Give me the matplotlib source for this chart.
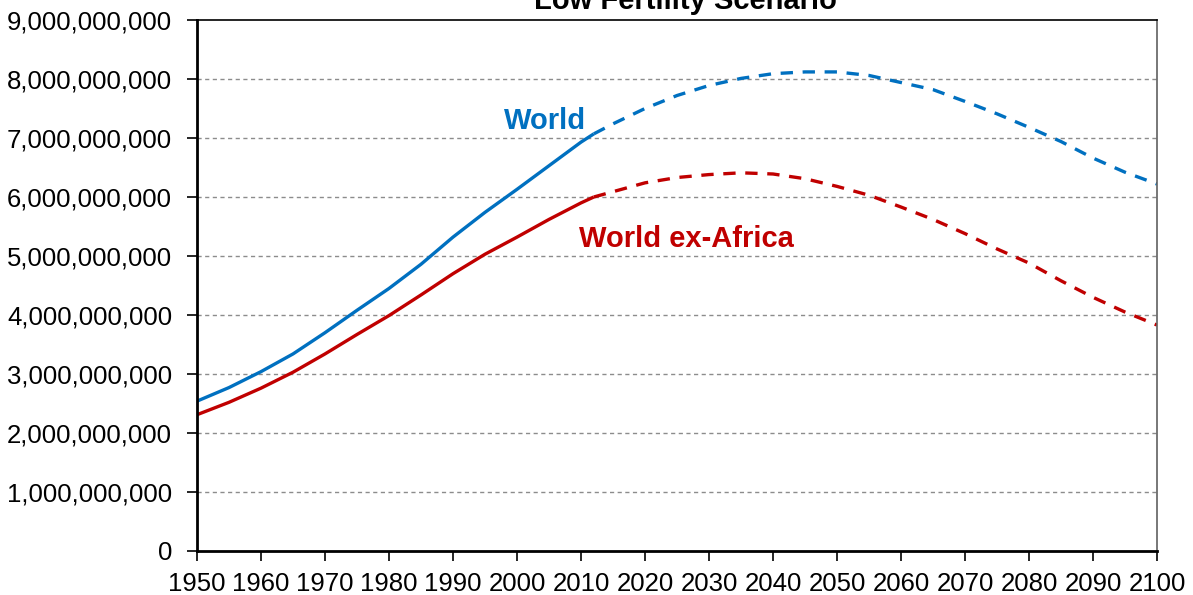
import matplotlib
matplotlib.use("Agg")
import matplotlib.pyplot as plt
from matplotlib.ticker import FuncFormatter, MultipleLocator

plt.rcParams['font.family'] = ['Liberation Sans', 'DejaVu Sans']

# Historical (solid) data
hist_years = [1950, 1955, 1960, 1965, 1970, 1975, 1980, 1985, 1990, 1995, 2000, 2005, 2010, 2012]
world_hist = [2.54, 2.77, 3.04, 3.34, 3.70, 4.08, 4.45, 4.86, 5.32, 5.74, 6.13, 6.53, 6.93, 7.07]
exafr_hist = [2.31, 2.52, 2.76, 3.03, 3.34, 3.67, 3.99, 4.34, 4.70, 5.03, 5.32, 5.62, 5.90, 6.00]

# Projection (dashed) data, low fertility scenario
proj_years = [2012, 2015, 2020, 2025, 2030, 2035, 2040, 2045, 2050, 2055, 2060,
              2065, 2070, 2075, 2080, 2085, 2090, 2095, 2100]
world_proj = [7.07, 7.24, 7.50, 7.72, 7.89, 8.01, 8.09, 8.12, 8.12, 8.06, 7.94,
              7.82, 7.62, 7.41, 7.18, 6.94, 6.66, 6.42, 6.22]
exafr_proj = [6.00, 6.09, 6.24, 6.33, 6.38, 6.41, 6.39, 6.31, 6.18, 6.03, 5.83,
              5.62, 5.38, 5.12, 4.88, 4.58, 4.30, 4.05, 3.83]

title = "Low Fertility Scenario"
blue = "#0070C0"
red = "#C00000"

scale = 1e9
fig = plt.figure(figsize=(11.93, 5.95), dpi=100)
ax = fig.add_axes([197/1193, 1-551/595, (1157-197)/1193, (551-20)/595])

lw = 2.4
ax.plot(hist_years, [v*scale for v in world_hist], color=blue, lw=lw, solid_capstyle='butt')
ax.plot(proj_years, [v*scale for v in world_proj], color=blue, lw=lw, dashes=(3.7, 2.9))
ax.plot(hist_years, [v*scale for v in exafr_hist], color=red, lw=lw, solid_capstyle='butt')
ax.plot(proj_years, [v*scale for v in exafr_proj], color=red, lw=lw, dashes=(3.7, 2.9))

ax.set_xlim(1950, 2100)
ax.set_ylim(0, 9e9)
ax.xaxis.set_major_locator(MultipleLocator(10))
ax.yaxis.set_major_locator(MultipleLocator(1e9))
ax.yaxis.set_major_formatter(FuncFormatter(lambda v, p: f"{int(round(v)):,}"))

for y in range(1, 9):
    ax.axhline(y*1e9, color='#8C8C8C', lw=1.0, dashes=(3, 2.5), zorder=0)

ax.tick_params(axis='both', direction='out', length=7, width=1.2, labelsize=18.5, colors='black')
ax.tick_params(axis='y', pad=11)
ax.tick_params(axis='x', pad=8)

ax.spines['left'].set_linewidth(2)
ax.spines['bottom'].set_linewidth(2)
ax.spines['top'].set_linewidth(1.2)
ax.spines['right'].set_linewidth(1.2)
ax.spines['right'].set_color('#606060')

ax.text(2004.4, 7.153e9, "World", color=blue, fontsize=21, fontweight='bold', ha='center', va='baseline')
ax.text(2026.5, 5.158e9, "World ex-Africa", color=red, fontsize=21, fontweight='bold', ha='center', va='baseline')

fig.text(685/1193, 1-9/595, title, fontsize=21, fontweight='bold', ha='center', va='baseline')

fig.savefig("out.png", dpi=100)
